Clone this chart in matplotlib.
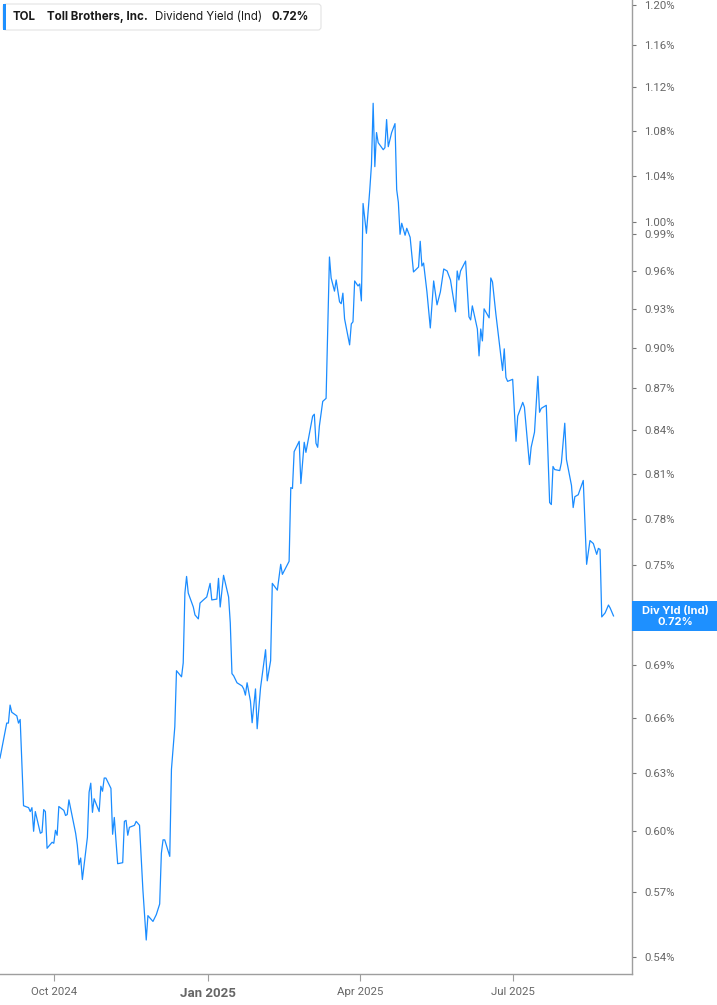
import pandas as pd
import matplotlib
matplotlib.use("Agg")
import matplotlib.pyplot as plt
from matplotlib.ticker import FixedLocator, FuncFormatter, NullLocator
from matplotlib.patches import FancyBboxPatch, Rectangle

# TOL dividend yield (ind), in percent
dates = [
    "2024-08-30", "2024-09-01", "2024-09-03", "2024-09-04", "2024-09-05", "2024-09-06", "2024-09-09", "2024-09-10", "2024-09-11", "2024-09-13",
    "2024-09-16", "2024-09-17", "2024-09-18", "2024-09-19", "2024-09-20", "2024-09-23", "2024-09-24", "2024-09-25", "2024-09-26", "2024-09-27",
    "2024-09-30", "2024-10-01", "2024-10-02", "2024-10-03", "2024-10-04", "2024-10-07", "2024-10-08", "2024-10-09", "2024-10-10", "2024-10-14",
    "2024-10-15", "2024-10-16", "2024-10-17", "2024-10-18", "2024-10-21", "2024-10-22", "2024-10-23", "2024-10-24", "2024-10-25", "2024-10-28",
    "2024-10-29", "2024-10-30", "2024-10-31", "2024-11-01", "2024-11-04", "2024-11-05", "2024-11-06", "2024-11-08", "2024-11-11", "2024-11-12",
    "2024-11-13", "2024-11-14", "2024-11-15", "2024-11-18", "2024-11-19", "2024-11-21", "2024-11-23", "2024-11-25", "2024-11-26", "2024-11-28",
    "2024-11-29", "2024-12-01", "2024-12-03", "2024-12-04", "2024-12-05", "2024-12-06", "2024-12-09", "2024-12-10", "2024-12-12", "2024-12-13",
    "2024-12-16", "2024-12-17", "2024-12-18", "2024-12-19", "2024-12-20", "2024-12-23", "2024-12-24", "2024-12-26", "2024-12-27", "2024-12-29",
    "2024-12-31", "2025-01-02", "2025-01-03", "2025-01-06", "2025-01-07", "2025-01-08", "2025-01-10", "2025-01-13", "2025-01-14", "2025-01-15",
    "2025-01-16", "2025-01-18", "2025-01-21", "2025-01-22", "2025-01-23", "2025-01-24", "2025-01-26", "2025-01-27", "2025-01-29", "2025-01-30",
    "2025-02-01", "2025-02-04", "2025-02-05", "2025-02-07", "2025-02-08", "2025-02-11", "2025-02-13", "2025-02-14", "2025-02-18", "2025-02-19",
    "2025-02-20", "2025-02-21", "2025-02-24", "2025-02-25", "2025-02-27", "2025-02-28", "2025-03-04", "2025-03-05", "2025-03-06", "2025-03-07",
    "2025-03-08", "2025-03-10", "2025-03-12", "2025-03-14", "2025-03-15", "2025-03-17", "2025-03-18", "2025-03-20", "2025-03-21", "2025-03-22",
    "2025-03-23", "2025-03-26", "2025-03-27", "2025-03-28", "2025-03-29", "2025-03-31", "2025-04-01", "2025-04-02", "2025-04-03", "2025-04-05",
    "2025-04-07", "2025-04-08", "2025-04-09", "2025-04-10", "2025-04-11", "2025-04-12", "2025-04-15", "2025-04-16", "2025-04-17", "2025-04-18",
    "2025-04-20", "2025-04-22", "2025-04-23", "2025-04-24", "2025-04-25", "2025-04-26", "2025-04-28", "2025-04-29", "2025-05-01", "2025-05-03",
    "2025-05-06", "2025-05-07", "2025-05-08", "2025-05-09", "2025-05-11", "2025-05-13", "2025-05-15", "2025-05-17", "2025-05-19", "2025-05-21",
    "2025-05-23", "2025-05-25", "2025-05-28", "2025-05-29", "2025-05-30", "2025-05-31", "2025-06-03", "2025-06-05", "2025-06-06", "2025-06-07",
    "2025-06-10", "2025-06-11", "2025-06-12", "2025-06-13", "2025-06-14", "2025-06-17", "2025-06-18", "2025-06-19", "2025-06-21", "2025-06-25",
    "2025-06-26", "2025-06-27", "2025-06-28", "2025-07-01", "2025-07-03", "2025-07-04", "2025-07-07", "2025-07-08", "2025-07-11", "2025-07-12",
    "2025-07-14", "2025-07-16", "2025-07-17", "2025-07-18", "2025-07-21", "2025-07-23", "2025-07-24", "2025-07-25", "2025-07-26", "2025-07-29",
    "2025-07-30", "2025-08-01", "2025-08-02", "2025-08-05", "2025-08-06", "2025-08-07", "2025-08-09", "2025-08-12", "2025-08-14", "2025-08-16",
    "2025-08-18", "2025-08-20", "2025-08-21", "2025-08-22", "2025-08-23", "2025-08-25", "2025-08-27", "2025-08-28", "2025-08-30",
]
div_yield = [
    0.638, 0.6475, 0.657, 0.657, 0.667, 0.663, 0.661, 0.657, 0.659, 0.613,
    0.612, 0.610, 0.612, 0.600, 0.610, 0.599, 0.5995, 0.611, 0.610, 0.5915,
    0.5945, 0.594, 0.6005, 0.598, 0.6126, 0.6106, 0.608, 0.6085, 0.616, 0.599,
    0.593, 0.5834, 0.5867, 0.5762, 0.597, 0.620, 0.6247, 0.6096, 0.6166, 0.610,
    0.6231, 0.6205, 0.6274, 0.6274, 0.622, 0.5985, 0.607, 0.5839, 0.5844, 0.605,
    0.6055, 0.598, 0.602, 0.603, 0.605, 0.603, 0.5714, 0.5477, 0.559, 0.5572,
    0.5563, 0.5595, 0.5645, 0.589, 0.5957, 0.5957, 0.5875, 0.632, 0.655, 0.6865,
    0.683, 0.691, 0.7327, 0.743, 0.7327, 0.7242, 0.7194, 0.717, 0.7266, 0.7285,
    0.7303, 0.7387, 0.7285, 0.729, 0.7418, 0.7242, 0.7437, 0.7303, 0.7146, 0.6848,
    0.6836, 0.6796, 0.6778, 0.6761, 0.6726, 0.6796, 0.6692, 0.6572, 0.6761, 0.6539,
    0.6767, 0.6987, 0.6807, 0.6923, 0.7387, 0.7345, 0.7506, 0.7443, 0.7525, 0.8005,
    0.7999, 0.825, 0.8322, 0.8032, 0.8315, 0.8245, 0.8499, 0.8513, 0.8308, 0.828,
    0.8428, 0.8605, 0.8627, 0.9713, 0.9544, 0.9439, 0.9528, 0.9355, 0.934, 0.9423,
    0.9222, 0.9023, 0.9183, 0.9199, 0.952, 0.948, 0.9496, 0.9362, 1.0159, 0.9908,
    1.0278, 1.0496, 1.105, 1.0478, 1.0782, 1.0691, 1.0628, 1.0646, 1.09, 1.0655,
    1.0782, 1.0863, 1.0278, 1.0168, 0.99, 0.9992, 0.9892, 0.995, 0.9875, 0.9592,
    0.9632, 0.9842, 0.964, 0.9664, 0.9433, 0.9152, 0.952, 0.9331, 0.9433, 0.9616,
    0.96, 0.9528, 0.9277, 0.96, 0.9528, 0.96, 0.968, 0.9238, 0.9214, 0.9323,
    0.9144, 0.894, 0.9144, 0.9053, 0.93, 0.923, 0.9544, 0.9512, 0.9261, 0.8831,
    0.8993, 0.878, 0.8751, 0.8766, 0.8322, 0.8499, 0.8598, 0.8563, 0.8161, 0.828,
    0.8386, 0.8788, 0.8527, 0.8555, 0.8577, 0.7905, 0.7892, 0.8148, 0.8127, 0.812,
    0.8175, 0.8449, 0.8196, 0.8019, 0.7872, 0.7944, 0.7957, 0.8053, 0.7506, 0.7657,
    0.7638, 0.7569, 0.7607, 0.76, 0.7182, 0.7206, 0.7254, 0.7236, 0.7188,
]

y_ticks = [0.54, 0.57, 0.60, 0.63, 0.66, 0.69, 0.72, 0.75, 0.78, 0.81, 0.84, 0.87,
           0.90, 0.93, 0.96, 0.99, 1.00, 1.04, 1.08, 1.12, 1.16, 1.20]
x_ticks = ["2024-10-01", "2025-01-01", "2025-04-01", "2025-07-01"]
x_labels = ["Oct 2024", "Jan 2025", "Apr 2025", "Jul 2025"]
ticker = "TOL"
company = "Toll Brothers, Inc."
metric = "Dividend Yield (Ind)"
last_value = 0.72

LINE = "#1a8cff"
BOX = "#1e90ff"
AXIS = "#9e9e9e"
TICK_TXT = "#666666"
W, H = 717, 1005

fig = plt.figure(figsize=(W / 100, H / 100), dpi=100)
ax = fig.add_axes([0, 31 / H, 632 / W, 1 - 31 / H])

ax.plot(pd.to_datetime(dates), div_yield, color=LINE, lw=0.9)

ax.set_yscale("log")
ax.set_ylim(0.5323, 1.205)
ax.set_xlim(pd.Timestamp("2024-08-30"), pd.Timestamp("2025-09-10"))

ax.yaxis.set_major_locator(FixedLocator(y_ticks))
ax.yaxis.set_minor_locator(NullLocator())
# the last-value box covers the tick label at the current value
ax.yaxis.set_major_formatter(
    FuncFormatter(lambda v, p: "" if abs(v - last_value) < 1e-9 else f"{v:.2f}%"))
ax.yaxis.tick_right()

ax.set_xticks(pd.to_datetime(x_ticks))
ax.set_xticklabels(x_labels)

for side in ["left", "top"]:
    ax.spines[side].set_visible(False)
for side in ["right", "bottom"]:
    ax.spines[side].set_color(AXIS)
    ax.spines[side].set_linewidth(1.0)

ax.tick_params(axis="y", length=3, width=0.8, color="#777777", pad=6,
               labelsize=8.2, labelcolor=TICK_TXT)
ax.tick_params(axis="x", length=5, width=0.8, color=AXIS, pad=4,
               labelsize=8.2, labelcolor=TICK_TXT)
for lab in ax.get_yticklabels() + ax.get_xticklabels():
    lab.set_fontfamily("Roboto")
jan = ax.get_xticklabels()[1]
jan.set_fontweight("bold")
jan.set_fontsize(9.5)

# pixel (from top-left) -> inches for fig.dpi_scale_trans
tr = fig.dpi_scale_trans


def px(x, y):
    return x / 100, (H - y) / 100


# header box
x0, y0 = px(3, 30)
hdr = FancyBboxPatch((x0, y0), 318 / 100, 26 / 100,
                     boxstyle="round,pad=0,rounding_size=0.03",
                     transform=tr, facecolor="white", edgecolor="#e3e3e3",
                     lw=0.8, zorder=5)
fig.patches.append(hdr)
fig.patches.append(Rectangle(px(3, 30), 3 / 100, 26 / 100, transform=tr,
                             facecolor=BOX, edgecolor="none", zorder=6))
ty = 17
hsize = 8.3
fig.text(*px(13, ty), ticker, transform=tr, fontsize=hsize, fontweight="bold",
         family="Inter", color="#1a1a1a", va="center", zorder=7)
fig.text(*px(47, ty), company, transform=tr, fontsize=hsize, fontweight="bold",
         family="Inter", color="#1a1a1a", va="center", zorder=7)
fig.text(*px(155, ty), metric, transform=tr, fontsize=hsize,
         family="Inter", color="#1a1a1a", va="center", zorder=7)
fig.text(*px(272, ty), f"{last_value:.2f}%", transform=tr, fontsize=hsize,
         fontweight="bold", family="Inter", color="#1a1a1a", va="center", zorder=7)

# last value label on the right axis
fig.patches.append(Rectangle(px(632, 631), 85 / 100, 30 / 100, transform=tr,
                             facecolor=BOX, edgecolor="none", zorder=8))
fig.text(*px(675, 610.5), "Div Yld (Ind)", transform=tr, fontsize=8,
         fontweight="bold", family="Inter", color="white", ha="center",
         va="center", zorder=9)
fig.text(*px(675, 621.5), f"{last_value:.2f}%", transform=tr, fontsize=8,
         fontweight="bold", family="Inter", color="white", ha="center",
         va="center", zorder=9)

fig.savefig("out.png", dpi=100)
